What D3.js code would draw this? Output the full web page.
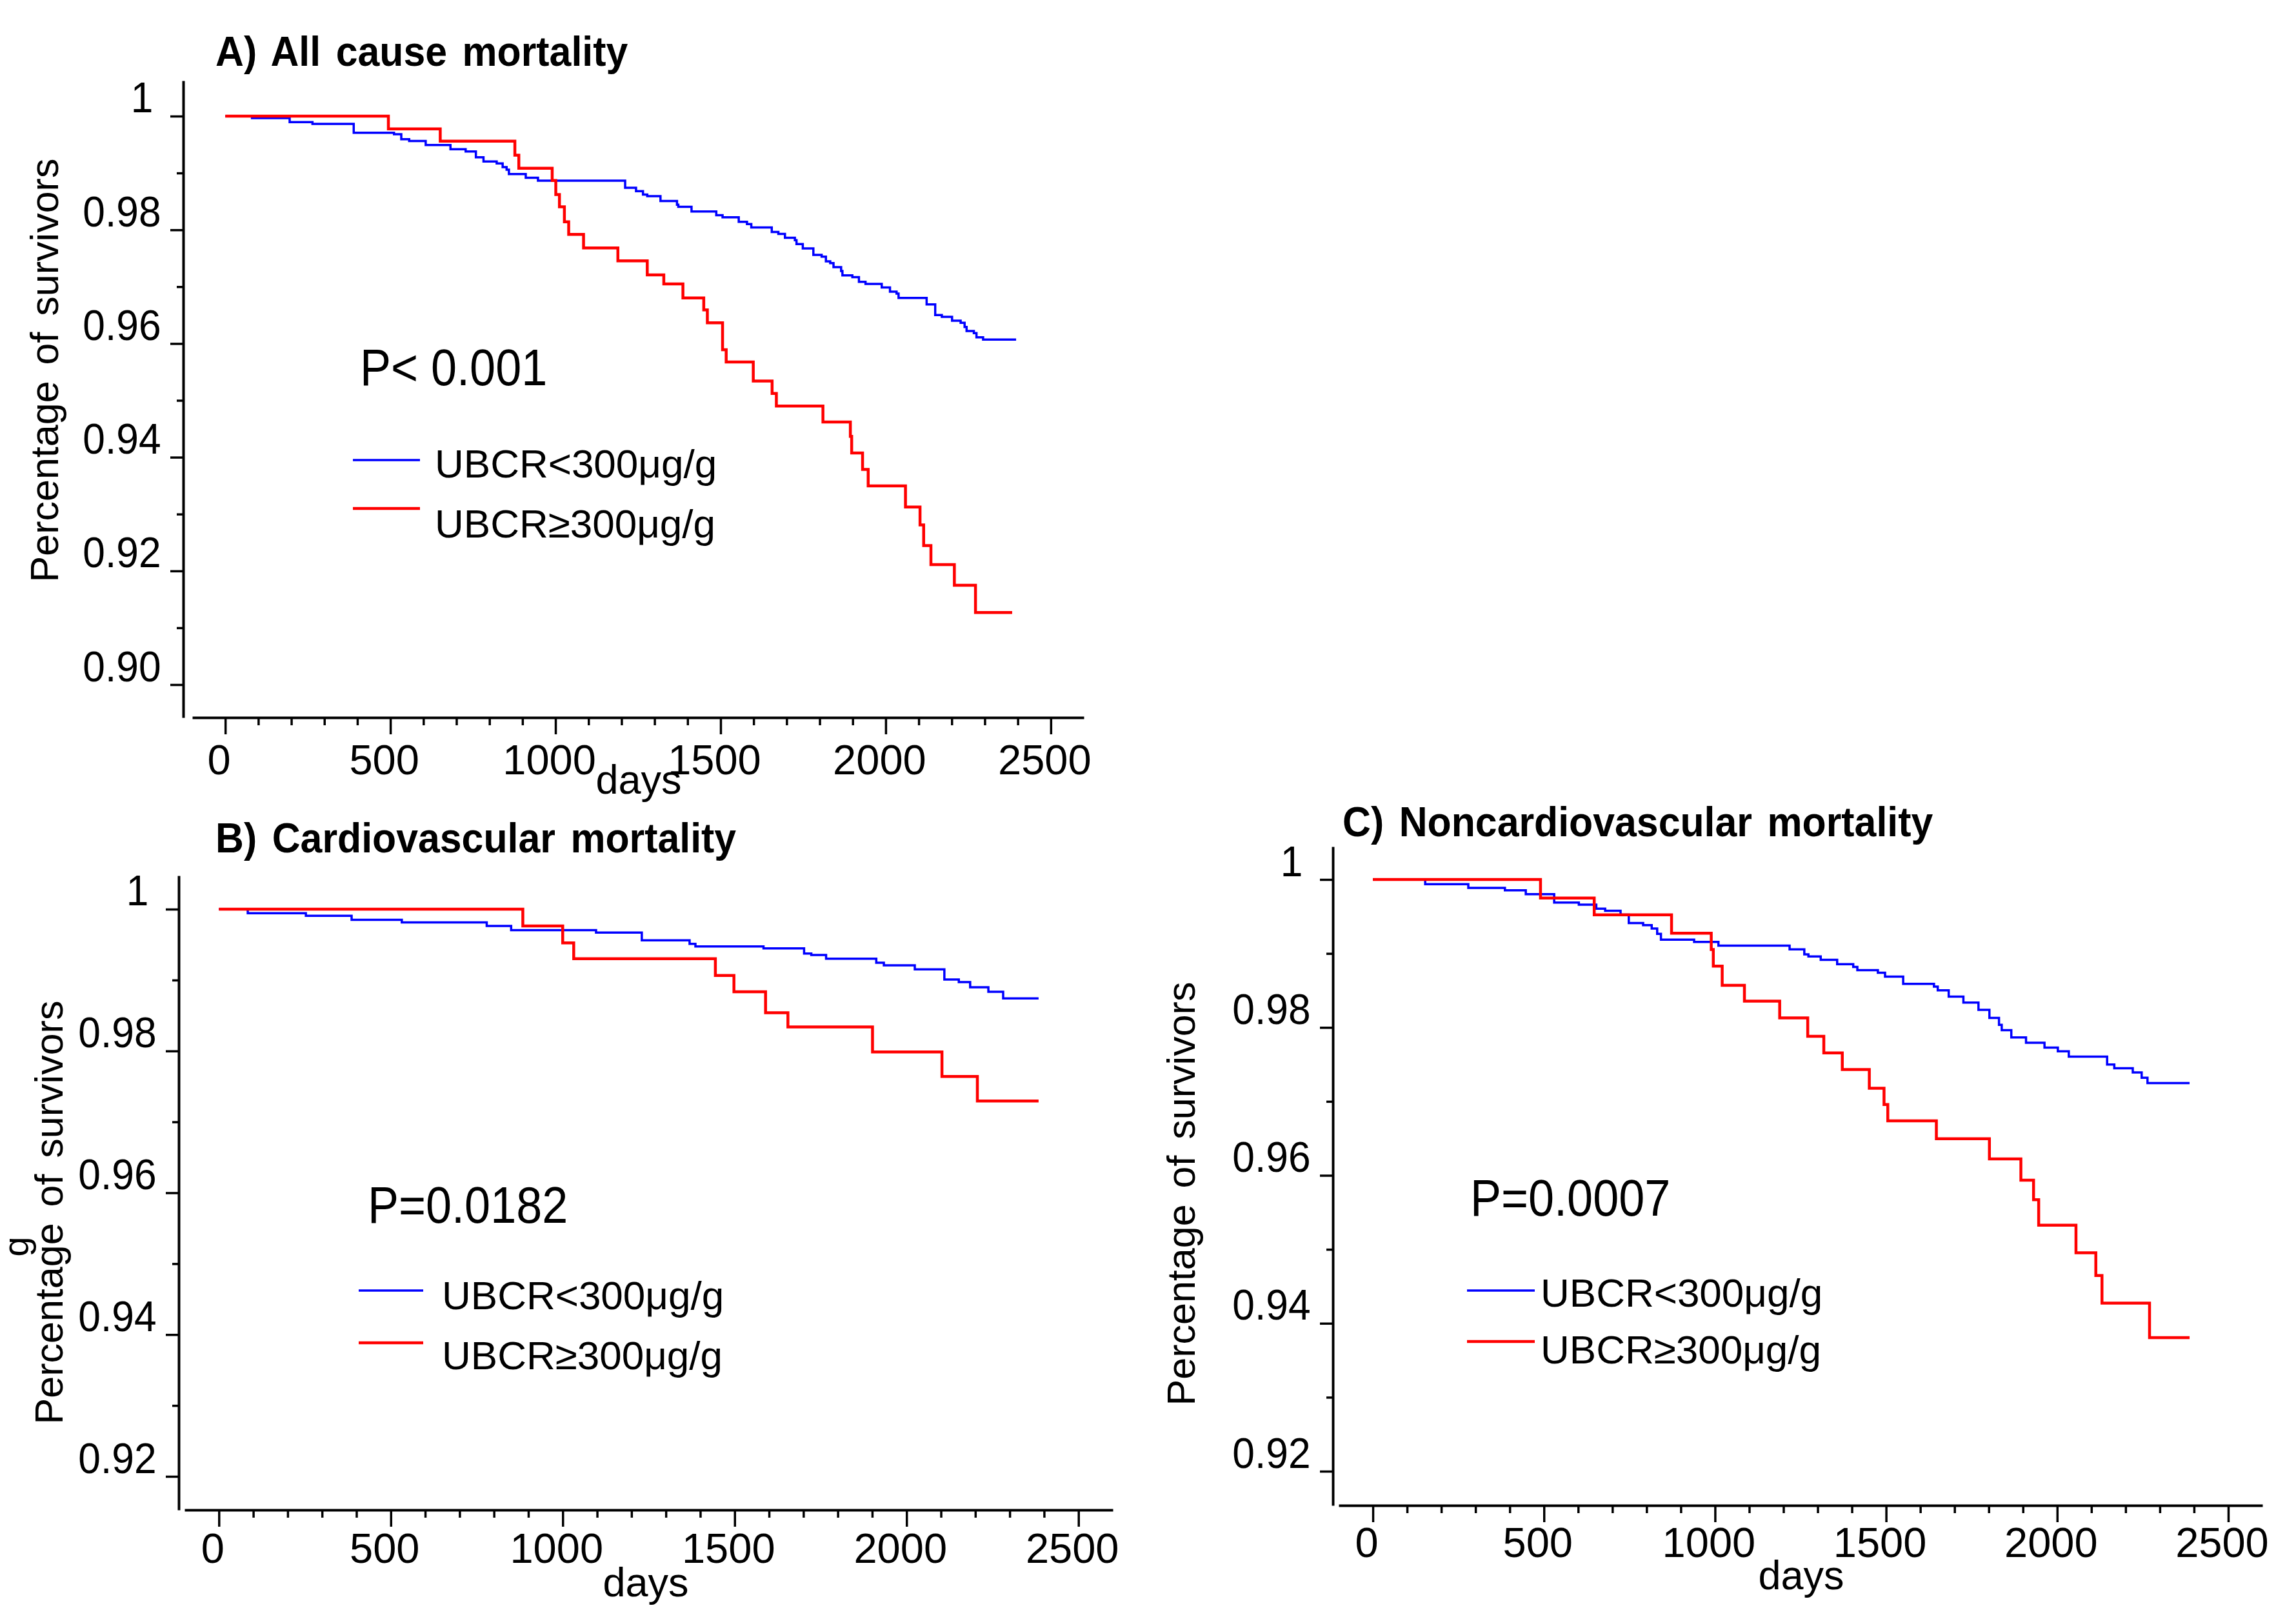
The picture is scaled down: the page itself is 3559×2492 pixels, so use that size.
<!DOCTYPE html>
<html>
<head>
<meta charset="utf-8">
<script src="https://cdn.jsdelivr.net/npm/d3@7"></script>
<style>
  html, body { margin: 0; padding: 0; background: #fff; }
  svg { display: block; }
  text { font-family: "Liberation Sans", Arial, sans-serif; fill: #000; }
</style>
</head>
<body>
<svg id="chart" width="3559" height="2492"></svg>
<script>
// ---- data ----
const titles = ["A) All cause mortality", "B) Cardiovascular mortality", "C) Noncardiovascular mortality"];
const pLabels = ["P< 0.001", "P=0.0182", "P=0.0007"];
const groupLabels = ["UBCR<300\u03bcg/g", "UBCR\u2265300\u03bcg/g"];
const yAxisTitle = "Percentage of survivors";
const xAxisTitle = "days";
const dayTicks = [0, 500, 1000, 1500, 2000, 2500];
const yTicksA = [0.90, 0.92, 0.94, 0.96, 0.98, 1];
const yMinorA = [0.91, 0.93, 0.95, 0.97, 0.99];
const yTicksBC = [0.92, 0.94, 0.96, 0.98, 1];
const yMinorBC = [0.93, 0.95, 0.97, 0.99];

// A) all cause
const allLowDays = [0, 81, 195, 264, 389, 511, 533, 557, 607, 682, 728, 759, 782, 822, 840, 852, 859, 910, 947, 1211, 1244, 1265, 1278, 1318, 1368, 1372, 1412, 1487, 1506, 1555, 1580, 1593, 1655, 1675, 1695, 1725, 1730, 1749, 1781, 1806, 1819, 1832, 1842, 1865, 1869, 1899, 1919, 1939, 1988, 2013, 2033, 2039, 2124, 2150, 2170, 2201, 2227, 2239, 2245, 2267, 2275, 2295, 2395];
const allLowSurv = [1, 0.99966, 0.99894, 0.99864, 0.99708, 0.99682, 0.99595, 0.99564, 0.99492, 0.99417, 0.99379, 0.99277, 0.99201, 0.99167, 0.99102, 0.99057, 0.98981, 0.98917, 0.98864, 0.98741, 0.9868, 0.98621, 0.98591, 0.98507, 0.98443, 0.98405, 0.98322, 0.98258, 0.9822, 0.9814, 0.98102, 0.98041, 0.97961, 0.97927, 0.97859, 0.97817, 0.97749, 0.97673, 0.97559, 0.97529, 0.97446, 0.97415, 0.97343, 0.97275, 0.97199, 0.97169, 0.97085, 0.97048, 0.96987, 0.96911, 0.96877, 0.96801, 0.96688, 0.96502, 0.96471, 0.96403, 0.96365, 0.9629, 0.96221, 0.96183, 0.96108, 0.9607, 0.9607];
const allHighDays = [0, 494, 651, 877, 889, 990, 1001, 1012, 1027, 1040, 1085, 1189, 1278, 1328, 1386, 1449, 1460, 1506, 1517, 1599, 1656, 1669, 1810, 1893, 1897, 1930, 1947, 2060, 2104, 2115, 2137, 2208, 2272, 2383];
const allHighSurv = [1, 0.99776, 0.99561, 0.99314, 0.99083, 0.98867, 0.98621, 0.98405, 0.9814, 0.9792, 0.97681, 0.97455, 0.97207, 0.97048, 0.96801, 0.96592, 0.96365, 0.95891, 0.95675, 0.95341, 0.95121, 0.949, 0.9462, 0.94366, 0.94076, 0.93786, 0.93496, 0.93125, 0.92808, 0.92446, 0.92111, 0.91748, 0.91268, 0.91268];

// B) cardiovascular
const cvLowDays = [0, 84, 253, 386, 532, 779, 850, 1097, 1230, 1369, 1386, 1584, 1702, 1723, 1766, 1912, 1934, 2024, 2110, 2152, 2185, 2238, 2281, 2384];
const cvLowSurv = [1, 0.99942, 0.99906, 0.99849, 0.99813, 0.99763, 0.99705, 0.99669, 0.99561, 0.99511, 0.99475, 0.99446, 0.99374, 0.99353, 0.99302, 0.99245, 0.99209, 0.99151, 0.99007, 0.98971, 0.98899, 0.98835, 0.98741, 0.98741];
const cvHighDays = [0, 884, 1000, 1032, 1444, 1498, 1590, 1655, 1901, 2103, 2206, 2384];
const cvHighSurv = [1, 0.99763, 0.99525, 0.99302, 0.99065, 0.98835, 0.9854, 0.98338, 0.97986, 0.9764, 0.97295, 0.97295];

// C) noncardiovascular
const ncvLowDays = [0, 153, 279, 386, 447, 530, 602, 653, 679, 724, 748, 790, 815, 831, 842, 939, 1010, 1218, 1261, 1273, 1309, 1357, 1404, 1416, 1476, 1497, 1550, 1640, 1651, 1683, 1726, 1770, 1802, 1830, 1838, 1866, 1909, 1963, 2002, 2034, 2146, 2167, 2221, 2247, 2264, 2387];
const ncvLowSurv = [1, 0.99936, 0.99886, 0.99854, 0.99802, 0.99688, 0.99659, 0.99606, 0.99577, 0.99525, 0.99411, 0.99382, 0.99338, 0.99265, 0.99187, 0.99155, 0.99105, 0.99055, 0.98988, 0.98959, 0.98915, 0.98855, 0.98819, 0.98775, 0.98739, 0.98688, 0.98588, 0.98552, 0.98502, 0.98416, 0.98337, 0.98237, 0.98129, 0.98036, 0.97964, 0.97864, 0.97792, 0.97728, 0.97677, 0.97606, 0.97498, 0.97448, 0.97391, 0.97319, 0.97247, 0.97247];
const ncvHighDays = [0, 490, 647, 873, 989, 995, 1021, 1086, 1189, 1271, 1318, 1372, 1451, 1494, 1505, 1647, 1802, 1894, 1931, 1946, 2055, 2113, 2131, 2270, 2387];
const ncvHighSurv = [1, 0.9975, 0.99523, 0.99273, 0.99054, 0.98829, 0.9857, 0.98355, 0.98128, 0.9788, 0.97655, 0.9743, 0.97178, 0.96957, 0.96738, 0.96495, 0.96222, 0.95935, 0.9567, 0.95326, 0.94953, 0.94645, 0.94272, 0.93806, 0.93806];

// ---- layout ----
let svg = d3.select("#chart");
svg.append("rect").attr("width", 3559).attr("height", 2492).attr("fill", "#fff");

const lowColor = "#0000ff", highColor = "#ff0000";

let panels = [
  { title: titles[0], p: pLabels[0], low: [allLowDays, allLowSurv], high: [allHighDays, allHighSurv],
    xr: [298, 1680], yr: [1112, 125], yd: [0.89421, 1.00624], yAxisX: 284, yMajor: yTicksA, yMinor: yMinorA,
    titleX: 334, titleY: 102, yLabX: 90, yLabY: 574, pX: 558, pY: 597,
    legX: [547, 651], legLineY: [713, 788], legTextX: 674, legTextY: [740, 833], daysX: 990, daysY: 1230, xLabDy: 88 },
  { title: titles[1], p: pLabels[1], low: [cvLowDays, cvLowSurv], high: [cvHighDays, cvHighSurv],
    xr: [286, 1725], yr: [2340, 1357], yd: [0.91527, 1.00473], yAxisX: 277, yMajor: yTicksBC, yMinor: yMinorBC,
    titleX: 334, titleY: 1321, yLabX: 97, yLabY: 1879, pX: 570, pY: 1895,
    legX: [556, 656], legLineY: [2000, 2081], legTextX: 685, legTextY: [2029, 2122], daysX: 1001, daysY: 2474, xLabDy: 82 },
  { title: titles[2], p: pLabels[2], low: [ncvLowDays, ncvLowSurv], high: [ncvHighDays, ncvHighSurv],
    xr: [2075, 3507], yr: [2333, 1312], yd: [0.91538, 1.00445], yAxisX: 2066, yMajor: yTicksBC, yMinor: yMinorBC,
    titleX: 2081, titleY: 1296, yLabX: 1852, yLabY: 1850, pX: 2279, pY: 1884,
    legX: [2274, 2379], legLineY: [2000, 2079], legTextX: 2388, legTextY: [2025, 2113], daysX: 2792, daysY: 2463, xLabDy: 80 }
];

panels.forEach(drawPanel);

// leftover glyph at the left edge of the original figure
svg.append("text")
  .attr("transform", "translate(44,1932) rotate(-90)")
  .attr("text-anchor", "middle")
  .attr("font-size", 56)
  .text("g");

function drawPanel(cfg) {
  let x = d3.scaleLinear().domain([-100, 2600]).range(cfg.xr);
  let y = d3.scaleLinear().domain(cfg.yd).range(cfg.yr);
  let g = svg.append("g");

  // y axis: major + minor ticks
  let yAxis = g.append("g")
    .attr("transform", `translate(${cfg.yAxisX},0)`)
    .call(d3.axisLeft(y).tickValues(cfg.yMajor).tickSize(20).tickSizeOuter(0)
      .tickFormat(d => d === 1 ? "1" : d3.format(".2f")(d)));
  yAxis.append("g")
    .call(d3.axisLeft(y).tickValues(cfg.yMinor).tickSize(10).tickSizeOuter(0).tickFormat(""))
    .select(".domain").remove();
  yAxis.attr("font-size", 67).attr("font-family", null);
  yAxis.selectAll("text")
    .attr("x", d => d === 1 ? -50 : -37).attr("y", -6).attr("dy", 0)
    .attr("transform", "scale(0.93,1)").attr("fill", "#000");

  // x axis: major + minor ticks
  let xMinor = d3.range(0, 2501, 100).filter(d => d % 500 !== 0);
  let xAxis = g.append("g")
    .attr("transform", `translate(0,${cfg.yr[0]})`)
    .call(d3.axisBottom(x).tickValues(dayTicks).tickSize(26).tickSizeOuter(0).tickFormat(d3.format("d")));
  xAxis.append("g")
    .call(d3.axisBottom(x).tickValues(xMinor).tickSize(12).tickSizeOuter(0).tickFormat(""))
    .select(".domain").remove();
  xAxis.attr("font-size", 65).attr("font-family", null);
  xAxis.selectAll("text").attr("y", cfg.xLabDy).attr("dy", 0).attr("x", -10)
    .attr("fill", "#000");

  g.selectAll(".domain").attr("stroke", "#000").attr("stroke-width", 4);
  g.selectAll(".tick line").attr("stroke", "#000").attr("stroke-width", 3.5);

  // survival curves
  let line = d3.line().curve(d3.curveStepAfter).x(d => x(d[0])).y(d => y(d[1]));
  g.append("path").datum(d3.zip(cfg.low[0], cfg.low[1]))
    .attr("d", line).attr("fill", "none").attr("stroke", lowColor).attr("stroke-width", 3.5);
  g.append("path").datum(d3.zip(cfg.high[0], cfg.high[1]))
    .attr("d", line).attr("fill", "none").attr("stroke", highColor).attr("stroke-width", 4.5);

  // texts
  g.append("text")
    .attr("transform", `translate(${cfg.titleX},${cfg.titleY}) scale(0.95,1)`)
    .attr("font-size", 64).attr("font-weight", "bold").attr("word-spacing", 7)
    .text(cfg.title);
  g.append("text")
    .attr("transform", `translate(${cfg.yLabX},${cfg.yLabY}) rotate(-90)`)
    .attr("text-anchor", "middle").attr("font-size", 61).attr("word-spacing", 8)
    .text(yAxisTitle);
  g.append("text").attr("x", cfg.daysX).attr("y", cfg.daysY)
    .attr("text-anchor", "middle").attr("font-size", 63)
    .text(xAxisTitle);
  g.append("text")
    .attr("transform", `translate(${cfg.pX},${cfg.pY}) scale(0.9,1)`)
    .attr("font-size", 80)
    .text(cfg.p);

  // legend
  [lowColor, highColor].forEach((c, i) => {
    g.append("line")
      .attr("x1", cfg.legX[0]).attr("x2", cfg.legX[1])
      .attr("y1", cfg.legLineY[i]).attr("y2", cfg.legLineY[i])
      .attr("stroke", c).attr("stroke-width", i === 0 ? 3.5 : 4.5);
    g.append("text").attr("x", cfg.legTextX).attr("y", cfg.legTextY[i])
      .attr("font-size", 62)
      .text(groupLabels[i]);
  });
}
</script>
</body>
</html>
